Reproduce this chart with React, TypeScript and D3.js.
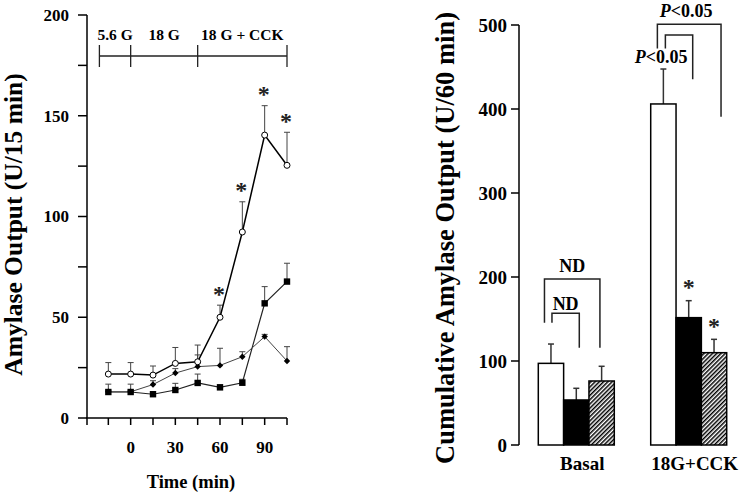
import React from 'react';
import * as d3 from 'd3';

// ---------- Left panel data ----------
const timePoints = [-15, 0, 15, 30, 45, 60, 75, 90, 105];
const openCircleMean = [21.8, 21.8, 21.3, 27.1, 27.9, 50.0, 92.3, 140.4, 125.4];
const openCircleUpper = [27.5, 27.5, 25.8, 35.0, 36.2, 56.0, 107.3, 155.0, 141.8];
const diamondMean = [13.0, 13.0, 16.6, 22.3, 25.5, 26.1, 30.4, 40.4, 28.3];
const diamondUpper = [13.5, 13.5, 18.5, 24.5, 31.3, 34.6, 32.9, 41.5, 35.4];
const squareMean = [12.9, 12.9, 11.8, 13.9, 17.4, 15.2, 17.5, 56.9, 67.7];
const squareUpper = [16.8, 16.8, 13.0, 17.2, 21.8, 16.5, 19.2, 65.2, 76.8];
const leftStarTimes = [60, 75, 90, 105];
const leftYTicks = [0, 25, 50, 75, 100, 125, 150, 175, 200];
const leftYLabels = [0, 50, 100, 150, 200];
const timeLabels = [0, 30, 60, 90];
const phaseBounds = [-21, 0, 45, 105];
const phaseNames = ['5.6 G', '18 G', '18 G + CCK'];

// ---------- Right panel data ----------
const categories = ['Basal', '18G+CCK'];
const groups = ['open', 'filled', 'hatched'];
const basalMeans = [97.2, 53.6, 76.2];
const basalUpper = [120.2, 67.5, 93.7];
const cckMeans = [406, 151.6, 109.9];
const cckUpper = [447.6, 171.8, 125.8];
const rightYTicks = [0, 100, 200, 300, 400, 500];
const rightStars = [
  { cat: '18G+CCK', group: 'filled' },
  { cat: '18G+CCK', group: 'hatched' },
];
// brackets: category, from-group, to-group, top value, left leg end, right leg end, label
const bracketCats = ['Basal', 'Basal', '18G+CCK', '18G+CCK'];
const bracketFrom = ['open', 'open', 'open', 'open'];
const bracketTo = ['filled', 'hatched', 'filled', 'hatched'];
const bracketTop = [156.8, 197.6, 488, 501];
const bracketLeftEnd = [145.6, 145.6, 472, 472];
const bracketRightEnd = [115.8, 115.8, 435.4, 390.8];
const bracketLabels = ['ND', 'ND', 'P<0.05', 'P<0.05'];

const FONT = '"Liberation Serif", "Times New Roman", Times, serif';

export default function App() {
  // Left scales
  const xL = d3.scaleLinear().domain([-30, 105]).range([86, 287]);
  const yL = d3.scaleLinear().domain([0, 200]).range([418, 15]);
  const lineL = d3
    .line<[number, number]>()
    .x((d) => xL(d[0]))
    .y((d) => yL(d[1]));
  const toPts = (vals: number[]) => timePoints.map((t, i) => [t, vals[i]] as [number, number]);

  // Right scales
  const yR = d3.scaleLinear().domain([0, 500]).range([445, 25]);
  const xR = d3.scaleBand<string>().domain(categories).range([538.3, 726.7]).paddingInner(0.324).paddingOuter(0);
  const xG = d3.scaleBand<string>().domain(groups).range([0, xR.bandwidth()]).padding(0);
  const means: Record<string, number[]> = { Basal: basalMeans, '18G+CCK': cckMeans };
  const uppers: Record<string, number[]> = { Basal: basalUpper, '18G+CCK': cckUpper };
  const barCx = (cat: string, g: string) => (xR(cat) as number) + (xG(g) as number) + xG.bandwidth() / 2;
  const legOffsetL = [1, -6.5, 2, -6];
  const legOffsetR = [3, -1.7, 4, 7];
  const labelDx = [0, 0, -18, -3];
  const labelGap = [3.5, 7.5, -28, 7.5];

  const capW = 6;
  const errColor = '#444';

  const errorBar = (x: number, y0: number, y1: number, key: string, color = errColor, w = 1) => (
    <g key={key} stroke={color} strokeWidth={w}>
      <line x1={x} x2={x} y1={y0} y2={y1} />
      <line x1={x - capW / 2} x2={x + capW / 2} y1={y1} y2={y1} />
    </g>
  );

  return (
    <svg
      width={741}
      height={494}
      style={{ position: 'absolute', left: 0, top: 0, background: '#fff' }}
      fontFamily={FONT}
      fontWeight="bold"
    >
      <defs>
        <pattern id="hatch" patternUnits="userSpaceOnUse" width={3} height={3} patternTransform="rotate(45)">
          <rect width={3} height={3} fill="#fff" />
          <line x1={0.75} y1={0} x2={0.75} y2={3} stroke="#000" strokeWidth={1.5} />
        </pattern>
      </defs>

      {/* ================= LEFT PANEL ================= */}
      <line x1={87} x2={87} y1={yL(200)} y2={yL(0) + 7} stroke="#000" strokeWidth={1.5} />
      {leftYTicks.map((t) => (
        <line key={'lyt' + t} x1={78} x2={87} y1={yL(t)} y2={yL(t)} stroke="#000" strokeWidth={1.5} />
      ))}
      {leftYLabels.map((t) => (
        <text key={'lyl' + t} x={69} y={yL(t)} dy="0.35em" textAnchor="end" fontSize={17}>
          {t}
        </text>
      ))}
      <text transform={`translate(22, 224.5) rotate(-90)`} textAnchor="middle" fontSize={25.5}>
        Amylase Output (U/15 min)
      </text>

      <line x1={86} x2={xL(105)} y1={yL(0)} y2={yL(0)} stroke="#000" strokeWidth={1.5} />
      {timePoints.map((t) => (
        <line key={'lxt' + t} x1={xL(t)} x2={xL(t)} y1={yL(0)} y2={yL(0) + 7} stroke="#000" strokeWidth={1.5} />
      ))}
      {timeLabels.map((t) => (
        <text key={'lxl' + t} x={xL(t)} y={453} textAnchor="middle" fontSize={17}>
          {t}
        </text>
      ))}
      <text x={191} y={488} textAnchor="middle" fontSize={18.5}>
        Time (min)
      </text>

      {/* phase timeline */}
      <line x1={xL(phaseBounds[0])} x2={xL(phaseBounds[3])} y1={56} y2={56} stroke="#222" strokeWidth={1.3} />
      {phaseBounds.map((t) => (
        <line key={'pb' + t} x1={xL(t)} x2={xL(t)} y1={45} y2={67} stroke="#222" strokeWidth={1.3} />
      ))}
      {phaseNames.map((n, i) => (
        <text key={'pn' + i} x={xL((phaseBounds[i] + phaseBounds[i + 1]) / 2)} y={40} textAnchor="middle" fontSize={15.5}>
          {n}
        </text>
      ))}

      {/* error bars */}
      {timePoints.map((t, i) => errorBar(xL(t), yL(squareMean[i]), yL(squareUpper[i]), 'se' + i))}
      {timePoints.map((t, i) => errorBar(xL(t), yL(diamondMean[i]), yL(diamondUpper[i]), 'de' + i))}
      {timePoints.map((t, i) => errorBar(xL(t), yL(openCircleMean[i]), yL(openCircleUpper[i]), 'ce' + i))}

      {/* lines */}
      <path d={lineL(toPts(squareMean)) as string} fill="none" stroke="#222" strokeWidth={1.2} />
      <path d={lineL(toPts(diamondMean)) as string} fill="none" stroke="#444" strokeWidth={1} />
      <path d={lineL(toPts(openCircleMean)) as string} fill="none" stroke="#000" strokeWidth={1.5} />

      {/* markers */}
      {timePoints.map((t, i) => (
        <rect key={'sq' + i} x={xL(t) - 3.2} y={yL(squareMean[i]) - 3.2} width={6.4} height={6.4} fill="#000" />
      ))}
      {timePoints.map((t, i) => (
        <path key={'dm' + i} d={`M${xL(t)},${yL(diamondMean[i]) - 3.2} l3.2,3.2 l-3.2,3.2 l-3.2,-3.2 z`} fill="#000" />
      ))}
      {timePoints.map((t, i) => (
        <circle key={'oc' + i} cx={xL(t)} cy={yL(openCircleMean[i])} r={3} fill="#fff" stroke="#000" strokeWidth={1} />
      ))}

      {/* stars */}
      {leftStarTimes.map((t) => {
        const i = timePoints.indexOf(t);
        return (
          <text key={'ls' + t} x={xL(t) - 1} y={yL(openCircleUpper[i]) - 15 + 11.5} textAnchor="middle" fontSize={24} fill="#222">
            *
          </text>
        );
      })}

      {/* ================= RIGHT PANEL ================= */}
      <line x1={519} x2={519} y1={yR(500)} y2={yR(0)} stroke="#000" strokeWidth={1.5} />
      {rightYTicks.map((t) => (
        <g key={'ryt' + t}>
          <line x1={511} x2={519} y1={yR(t)} y2={yR(t)} stroke="#000" strokeWidth={1.5} />
          <text x={507} y={yR(t)} dy="0.35em" textAnchor="end" fontSize={19}>
            {t}
          </text>
        </g>
      ))}
      <text transform={`translate(454, 238) rotate(-90)`} textAnchor="middle" fontSize={26.5}>
        Cumulative Amylase Output (U/60 min)
      </text>

      {categories.map((cat) => (
        <g key={'cat' + cat}>
          {groups.map((g, gi) => {
            const x0 = (xR(cat) as number) + (xG(g) as number);
            const cx = barCx(cat, g);
            return (
              <g key={cat + g}>
                {errorBar(cx, yR(means[cat][gi]), yR(uppers[cat][gi]), 'rb' + cat + g, '#333', 1.5)}
                <rect
                  x={x0}
                  y={yR(means[cat][gi])}
                  width={xG.bandwidth()}
                  height={yR(0) - yR(means[cat][gi])}
                  fill={g === 'open' ? '#fff' : g === 'filled' ? '#000' : 'url(#hatch)'}
                  stroke="#000"
                  strokeWidth={1.5}
                />
              </g>
            );
          })}
          <text x={(xR(cat) as number) + xR.bandwidth() / 2 + 6} y={470} textAnchor="middle" fontSize={19}>
            {cat}
          </text>
        </g>
      ))}

      {rightStars.map((s, i) => {
        const gi = groups.indexOf(s.group);
        return (
          <text key={'rs' + i} x={barCx(s.cat, s.group)} y={yR(uppers[s.cat][gi]) - 17 + 11.5} textAnchor="middle" fontSize={24} fill="#222">
            *
          </text>
        );
      })}

      {bracketCats.map((cat, i) => {
        const xa = barCx(cat, bracketFrom[i]) + legOffsetL[i];
        const xb = barCx(cat, bracketTo[i]) + legOffsetR[i];
        const yt = yR(bracketTop[i]);
        const isP = bracketLabels[i].startsWith('P');
        const lx = (xa + xb) / 2 + labelDx[i];
        const ly = yt - labelGap[i];
        return (
          <g key={'br' + i}>
            <path
              d={`M${xa},${yR(bracketLeftEnd[i])} V${yt} H${xb} V${yR(bracketRightEnd[i])}`}
              fill="none"
              stroke="#222"
              strokeWidth={1.5}
            />
            <text x={lx} y={ly} textAnchor="middle" fontSize={18}>
              {isP ? (
                <>
                  <tspan fontStyle="italic">P</tspan>
                  {'<0.05'}
                </>
              ) : (
                bracketLabels[i]
              )}
            </text>
          </g>
        );
      })}
    </svg>
  );
}
